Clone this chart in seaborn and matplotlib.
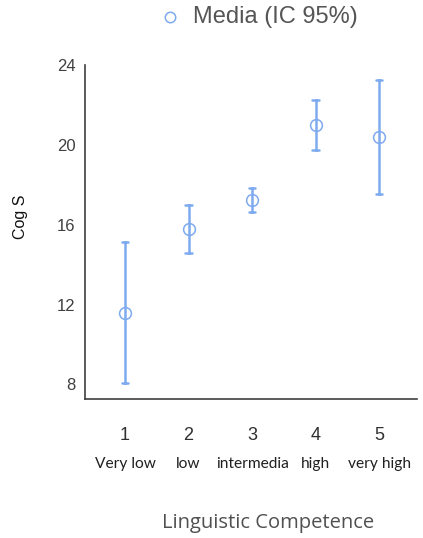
import numpy as np
import pandas as pd
import seaborn as sns
import matplotlib
matplotlib.use("Agg")
import matplotlib.pyplot as plt
from matplotlib.lines import Line2D

levels = [1, 2, 3, 4, 5]
level_names = ["Very low", "low", "intermedia", "high", "very high"]
means = [11.6, 15.8, 17.25, 21.0, 20.4]
ci_low = [8.05, 14.6, 16.65, 19.75, 17.55]
ci_high = [15.15, 17.0, 17.85, 22.25, 23.25]
yticks = [8, 12, 16, 20, 24]

blue = "#7EAAEF"

sns.set_style("white")
plt.rcParams['font.family'] = ['Liberation Sans', 'DejaVu Sans']

# summary rows: median = mean, min/max = CI bounds
rows = []
for lv, m, lo, hi in zip(levels, means, ci_low, ci_high):
    for v in (lo, m, hi):
        rows.append({"level": lv, "value": v})
df = pd.DataFrame(rows)

fig = plt.figure(figsize=(4.23, 5.38), dpi=100)
ax = fig.add_axes([0.201, 0.2584, 0.784, 0.6202])

sns.pointplot(data=df, x="level", y="value", estimator="median",
              errorbar=("pi", 100), native_scale=True, linestyle="none",
              marker="o", markersize=8.5, markerfacecolor="white",
              markeredgewidth=1.1, color=blue, capsize=0.1,
              err_kws={"linewidth": 1.8}, ax=ax)

ax.set_xlim(0.37, 5.59)
ax.set_ylim(7.27, 24)
ax.set_yticks(yticks)
ax.set_yticklabels([str(t) for t in yticks], fontsize=12, color="#404040")
ax.set_xticks(levels)
ax.set_xticklabels([str(l) for l in levels], fontsize=13, color="#303030")
ax.tick_params(axis="both", direction="out", length=4, width=1.2, color="#404040")
ax.tick_params(axis="x", pad=16)
ax.tick_params(axis="y", pad=3)
for s in ["top", "right"]:
    ax.spines[s].set_visible(False)
for s in ["left", "bottom"]:
    ax.spines[s].set_color("#404040")
    ax.spines[s].set_linewidth(1.2)
ax.spines["left"].set_bounds(7.27, 24)
ax.set_xlabel("")
ax.set_ylabel("")

for lv, name in zip(levels, level_names):
    ax.text(lv, -0.196, name, transform=ax.get_xaxis_transform(), ha="center",
            va="center", fontsize=11.2, color="#202020",
            family=["Lato", "DejaVu Sans"])

fig.text(268 / 423, 1 - 523 / 538, "Linguistic Competence", ha="center",
         va="center", fontsize=14.5, color="#505050",
         family=["Open Sans", "DejaVu Sans"])
fig.text(21 / 423, 1 - 217 / 538, "Cog S", rotation=90, ha="center",
         va="center", fontsize=11.5, color="#111111")

# legend (top)
fig.add_artist(Line2D([170 / 423], [1 - 17 / 538], transform=fig.transFigure,
                      linestyle="none", marker="o", markersize=7.5,
                      markerfacecolor="white", markeredgecolor=blue,
                      markeredgewidth=1.1))
fig.text(193 / 423, 1 - 17 / 538, "Media (IC 95%)", ha="left", va="center",
         fontsize=17, color="#555555")

fig.savefig("out.png", dpi=100)
